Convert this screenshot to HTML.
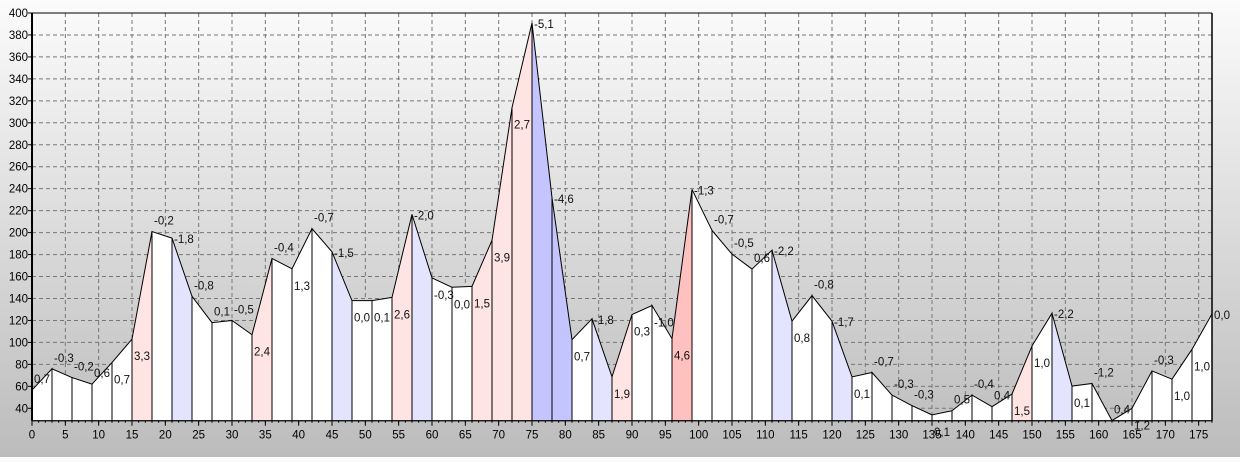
<!DOCTYPE html>
<html><head><meta charset="utf-8"><style>
html,body{margin:0;padding:0;}
body{width:1240px;height:457px;overflow:hidden;background:linear-gradient(#fbfbfb,#bcbcbc);font-family:"Liberation Sans",sans-serif;}
svg text{font-family:"Liberation Sans",sans-serif;font-size:11.5px;}
</style></head><body>
<svg id="chart" width="1240" height="457" xmlns="http://www.w3.org/2000/svg">
<defs><linearGradient id="bg" x1="0" y1="0" x2="0" y2="1"><stop offset="0" stop-color="#fafafa"/><stop offset="1" stop-color="#c0c0c0"/></linearGradient></defs>
<rect x="32" y="13" width="1180" height="408" fill="url(#bg)"/>
<g id="grid"></g><g id="marks"></g><g id="axes"></g><g id="labels"></g>
</svg>
<script>
const xValues=[0,3,6,9,12,15,18,21,24,27,30,33,36,39,42,45,48,51,54,57,60,63,66,69,72,75,78,81,84,87,90,93,96,99,102,105,108,111,114,117,120,123,126,129,132,135,138,141,144,147,150,153,156,159,162,165,168,171,174,177];
const yValues=[56.6,76,68,62,81.7,103,201,195,142,118,120,107,176.5,167,203.6,182.5,138,138,141,216.6,158.7,150.2,151,193,313.8,391,231.7,102.5,121.5,68.6,125.4,133.6,103.4,239.3,202,180.4,166.8,184,119.3,142.6,119.3,68.6,72.6,52,42.4,34,37.8,52,41.5,53,96.7,126.6,60.2,62.6,28.8,40,74,66.5,93.7,126];
const changeLabels=[0.7,-0.3,-0.2,0.6,0.7,3.3,-0.2,-1.8,-0.8,0.1,-0.5,2.4,-0.4,1.3,-0.7,-1.5,0.0,0.1,2.6,-2.0,-0.3,0.0,1.5,3.9,2.7,-5.1,-4.6,0.7,-1.8,1.9,0.3,-1.0,4.6,-1.3,-0.7,-0.5,0.6,-2.2,0.8,-0.8,-1.7,0.1,-0.7,-0.3,-0.3,0.1,0.5,-0.4,0.4,1.5,1.0,-2.2,0.1,-1.2,0.4,1.2,-0.3,1.0,1.0,0.0];
const labelPlacement=['a','a','a','a','b','b','a','r','a','a','a','b','a','b','a','r','b','b','b','r','b','b','b','b','b','r','r','b','r','b','b','b','b','r','a','a','a','r','b','a','r','b','a','a','a','b','a','a','a','b','b','r','b','a','a','b','a','b','b','r'];
const yTicks=[40,60,80,100,120,140,160,180,200,220,240,260,280,300,320,340,360,380,400];
const xTicks=[0,5,10,15,20,25,30,35,40,45,50,55,60,65,70,75,80,85,90,95,100,105,110,115,120,125,130,135,140,145,150,155,160,165,170,175];
const X0=32,X1=1212,Y0=420.7,Y1=13,XMAX=177,YMIN=28.7,YMAX=400;
const sx=v=>X0+(v/XMAX)*(X1-X0);
const sy=v=>Y0-(v-YMIN)/(YMAX-YMIN)*(Y0-Y1);
const NS="http://www.w3.org/2000/svg";
function mk(tag,parent,attrs){const e=document.createElementNS(NS,tag);for(const k in attrs)e.setAttribute(k,attrs[k]);parent.appendChild(e);return e;}
const grid=document.getElementById('grid'),marks=document.getElementById('marks'),axes=document.getElementById('axes'),labels=document.getElementById('labels');
yTicks.forEach(t=>{const y=sy(t);
 const l=mk('line',grid,{x1:X0,x2:X1,y1:y,y2:y,stroke:'#777','stroke-dasharray':'4,3'});
 
 
 const tk=mk('line',axes,{x1:X0-4,x2:X0,y1:y,y2:y,stroke:'#000'});
 
 
 const tx=mk('text',axes,{x:X0-4,y:y+4,'text-anchor':'end',fill:'#000'});tx.textContent=t;
 
 
});
xTicks.forEach(t=>{const x=sx(t);
 const l=mk('line',grid,{x1:x,x2:x,y1:Y1,y2:Y0,stroke:'#777','stroke-dasharray':'4,3'});
 
 
 const tk=mk('line',axes,{x1:x,x2:x,y1:Y0,y2:Y0+5,stroke:'#000'});
 
 
 const tx=mk('text',axes,{x:x,y:Y0+18,'text-anchor':'middle',fill:'#000'});tx.textContent=t;
 
 
});
for(let v=0;v<=XMAX;v++){const x=sx(v);const m=mk('line',axes,{x1:x,x2:x,y1:Y0,y2:Y0+2,stroke:'#000'});
 
 }
function fillFor(c){const a=Math.abs(c);if(a<1.5)return '#ffffff';if(c>0)return a>=4?'#ffc0c0':'#ffe4e4';return a>=4?'#c4c4ff':'#e4e4ff';}
for(let i=0;i<xValues.length-1;i++){
 const xa=sx(xValues[i]),xb=sx(xValues[i+1]),ya=sy(yValues[i]),yb=sy(yValues[i+1]);
 const p=mk('polygon',marks,{points:`${xa},${Y0} ${xa},${ya} ${xb},${yb} ${xb},${Y0}`,fill:fillFor(changeLabels[i]),stroke:'#000','stroke-width':1});
 
 
}
const fmt=v=>(v<0?'-':'')+Math.abs(v).toFixed(1).replace('.',',');
xValues.forEach((xv,i)=>{
 const x=sx(xv)+2,y=sy(yValues[i]);const m=labelPlacement[i]||'a';
 const ty=m==='a'?y-7:(m==='r'?y+5:y+21);
 const t=mk('text',labels,{x:x,y:ty,fill:'#111'});t.textContent=fmt(changeLabels[i]);
 
 
});
const ax=mk('line',axes,{x1:X0,x2:X0,y1:Y1,y2:Y0,stroke:'#000','stroke-width':2});


const bx=mk('line',axes,{x1:X0,x2:X1,y1:Y0,y2:Y0,stroke:'#000','stroke-width':1});


const rx=mk('line',axes,{x1:X1,x2:X1,y1:Y1,y2:Y0,stroke:'#000','stroke-width':1.5});


const tp=mk('line',axes,{x1:X0,x2:X1,y1:Y1,y2:Y1,stroke:'#000','stroke-width':1});


</script>
</body></html>
